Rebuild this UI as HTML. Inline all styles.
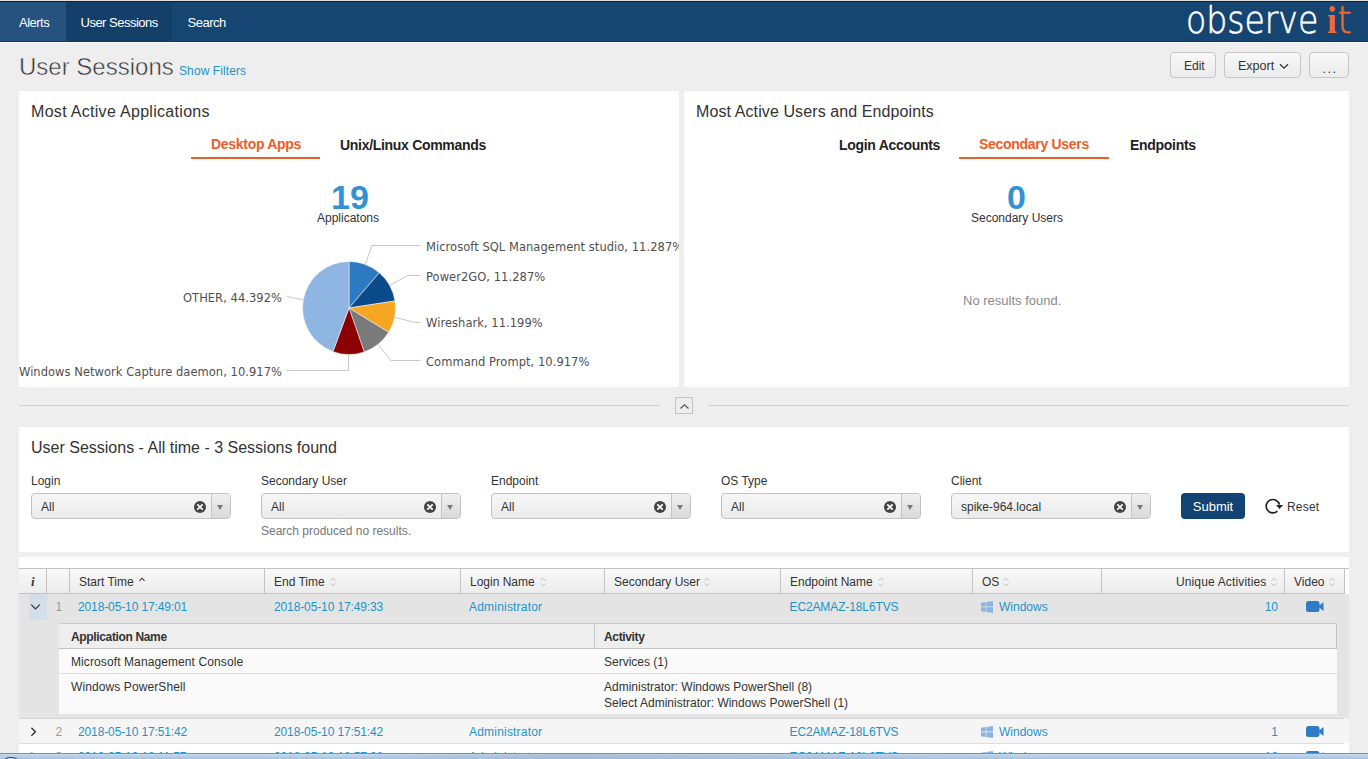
<!DOCTYPE html>
<html><head><meta charset="utf-8">
<style>
*{box-sizing:border-box;margin:0;padding:0}
html,body{width:1368px;height:759px;overflow:hidden}
body{background:#eeeeee;font-family:"Liberation Sans",Arial,sans-serif;color:#333;position:relative;font-size:13px}
.abs{position:absolute}
#topline{left:0;top:0;width:1368px;height:2px;background:#e0e0e0;border-bottom:1px solid #1b1e23}
#nav{left:0;top:2px;width:1368px;height:41px;background:#164572;border-bottom:1px solid #fafafa}
#nav .tab{position:absolute;top:0;height:40px;line-height:42px;color:#fff;font-size:13px;letter-spacing:-0.5px;border-bottom:1px solid #0b3660}
#logo{position:absolute;left:0;top:0;font-family:"DejaVu Sans",sans-serif;font-weight:200;font-size:38px;color:#fff;white-space:nowrap}
#logo span{position:absolute;line-height:1;display:block;transform-origin:0 0}
#logo .o{left:1186px;top:-1px;-webkit-text-stroke:0.6px #fff;transform:scaleX(0.87)}
#logo .i1{left:1327px;top:0px;color:#ef6a2c;font-weight:bold;font-family:"Liberation Serif",serif;font-size:37px;transform:scaleX(0.95)}
#logo .t1{left:1337px;top:-1px;-webkit-text-stroke:0.4px #ef6a2c;color:#ef6a2c}
h1{position:absolute;left:19px;top:53px;font-size:24px;font-weight:normal;color:#333;-webkit-text-stroke:0.5px #eeeeee;white-space:nowrap}
.link{color:#1e93c6}
.btn{position:absolute;top:52px;height:26px;border:1px solid #c6c6c6;border-radius:4px;background:linear-gradient(#f8f8f8,#ebebeb);font-size:12.5px;line-height:24px;color:#333}
.panel{position:absolute;background:#fff}
.ptitle{position:absolute;font-size:16px;color:#333;white-space:nowrap;letter-spacing:0.3px}
.ttab{position:absolute;font-size:14px;font-weight:bold;color:#222;white-space:nowrap;letter-spacing:-0.3px}
.ttab.on{color:#ec5d27}
.uline{position:absolute;height:2px;background:#ec5d27}
.big{position:absolute;font-size:34px;font-weight:bold;color:#3391d6;white-space:nowrap}
.sub{position:absolute;font-size:12px;color:#333;white-space:nowrap}
.lbl{position:absolute;font-size:12px;color:#333;white-space:nowrap}
.sel{position:absolute;width:200px;height:26px;border:1px solid #c3c3c3;border-radius:4px;background:linear-gradient(#f6f6f6,#ebebeb);overflow:hidden}
.sel .v{position:absolute;left:9px;top:2px;line-height:23px;font-size:12px;color:#333}
.sel .x{position:absolute;left:162px;top:7px;width:12px;height:12px}
.sel .dd{position:absolute;left:179px;top:0;width:20px;height:24px;border-left:1px solid #c3c3c3;background:linear-gradient(#f0f0f0,#d9d9d9)}
.sel .ar{position:absolute;left:185px;top:11px;width:0;height:0;border-left:3px solid transparent;border-right:3px solid transparent;border-top:5px solid #7a7a7a}
table{border-collapse:collapse}
.th{position:absolute;top:568px;height:26px;border-top:1px solid #c3c3c3;border-bottom:1px solid #c3c3c3;background:linear-gradient(#f8f8f8,#ececec)}
.hc{position:absolute;top:0;height:24px;line-height:26px;font-size:12px;color:#333;white-space:nowrap;border-left:1px solid #c3c3c3}
.rt{position:absolute;font-size:12px;letter-spacing:-0.12px;color:#1e93c6;white-space:nowrap}
.nt{position:absolute;font-size:12px;color:#333;white-space:nowrap}
#taskbar{left:0;top:753px;width:1368px;height:6px;background:linear-gradient(#c3dbf1,#a9c2dc);border-top:1px solid #7f90a4;overflow:hidden}
</style></head>
<body>
<div id="topline" class="abs"></div>
<div id="nav" class="abs"><div style="position:absolute;left:0;top:39px;width:1368px;height:1px;background:#0b3660"></div>
  <div class="tab" style="left:0;width:66px;background:#25527e;padding-left:19px">Alerts</div>
  <div class="tab" style="left:66px;width:106px;background:#133f69;padding-left:14.5px">User Sessions</div>
  <div class="tab" style="left:172px;width:70px;padding-left:15.5px">Search</div>
  <div id="logo"><span class="o">observe</span><span class="i1">i</span><span class="t1">t</span></div>
</div>

<h1>User Sessions</h1>
<div class="abs link" style="left:179px;top:64px;font-size:12px;letter-spacing:0.1px">Show Filters</div>
<div class="btn" style="left:1170px;width:46px"><span style="position:absolute;left:13px;top:1px;font-size:12px">Edit</span></div>
<div class="btn" style="left:1224px;width:77px"><span style="position:absolute;left:13px;top:1px">Export</span><svg style="position:absolute;left:54px;top:10px" width="10" height="7" viewBox="0 0 10 7"><path d="M1 1.2L5 5.2L9 1.2" fill="none" stroke="#333" stroke-width="1.25"/></svg></div>
<div class="btn" style="left:1309px;width:40px"><span style="position:absolute;left:12.5px;top:3.5px;letter-spacing:1.5px;color:#333">...</span></div>

<!-- Panel 1 -->
<div class="panel" style="left:19px;top:91px;width:660px;height:296px;overflow:hidden">
  <div class="ptitle" style="left:12px;top:12px">Most Active Applications</div>
  <div class="ttab on" style="left:192px;top:45px">Desktop Apps</div>
  <div class="uline" style="left:172px;top:66px;width:129px"></div>
  <div class="ttab" style="left:321px;top:46px">Unix/Linux Commands</div>
  <div class="big" style="left:312px;top:87px">19</div>
  <div class="sub" style="left:298px;top:120px">Applicatons</div>
  <svg class="abs" style="left:0;top:0" width="660" height="296" viewBox="19 91 660 296">
    <g font-family="DejaVu Sans, sans-serif" font-size="11.5" fill="#505050" letter-spacing="0.04">
<path d="M349 308L349.00 261.50A46.5 46.5 0 0 1 379.28 272.71Z" fill="#2c7bc2" stroke="#fff" stroke-width="0.5" stroke-linejoin="round"/>
      <path d="M349 308L379.28 272.71A46.5 46.5 0 0 1 394.96 300.94Z" fill="#0b4b8b" stroke="#fff" stroke-width="0.5" stroke-linejoin="round"/>
      <path d="M349 308L394.96 300.94A46.5 46.5 0 0 1 388.61 332.35Z" fill="#f5a623" stroke="#fff" stroke-width="0.5" stroke-linejoin="round"/>
      <path d="M349 308L388.61 332.35A46.5 46.5 0 0 1 364.23 351.94Z" fill="#7a7a7a" stroke="#fff" stroke-width="0.5" stroke-linejoin="round"/>
      <path d="M349 308L364.23 351.94A46.5 46.5 0 0 1 332.95 351.64Z" fill="#8b0000" stroke="#fff" stroke-width="0.5" stroke-linejoin="round"/>
      <path d="M349 308L332.95 351.64A46.5 46.5 0 0 1 349.00 261.50Z" fill="#8fb5e2" stroke="#fff" stroke-width="0.5" stroke-linejoin="round"/>
      <g fill="none" stroke="#c8c8c8" stroke-width="1">
        <path d="M365.1 264.4L372 245.5H420.5"/>
        <path d="M389.7 285.4L407.5 275.5H420.5"/>
        <path d="M394.6 317.2L414.8 322.5H420.5"/>
        <path d="M378.1 344.3L390.8 360.5H420.5"/>
        <path d="M348.5 354.5V370.5H287"/>
        <path d="M303.2 299.9L287 296.5"/>
      </g>
      <text x="426" y="251">Microsoft SQL Management studio, 11.287%</text>
      <text x="426" y="281">Power2GO, 11.287%</text>
      <text x="426" y="326.5">Wireshark, 11.199%</text>
      <text x="426" y="365.5">Command Prompt, 10.917%</text>
      <text x="282" y="375.5" text-anchor="end">Windows Network Capture daemon, 10.917%</text>
      <text x="282" y="302" text-anchor="end">OTHER, 44.392%</text>
    </g>
  </svg>
</div>

<!-- Panel 2 -->
<div class="panel" style="left:684px;top:91px;width:665px;height:296px">
  <div class="ptitle" style="left:12px;top:12px;letter-spacing:0.1px">Most Active Users and Endpoints</div>
  <div class="ttab" style="left:155px;top:46px">Login Accounts</div>
  <div class="ttab on" style="left:295px;top:45px">Secondary Users</div>
  <div class="uline" style="left:275px;top:66px;width:150px"></div>
  <div class="ttab" style="left:446px;top:46px">Endpoints</div>
  <div class="big" style="left:323px;top:87px">0</div>
  <div class="sub" style="left:287px;top:120px">Secondary Users</div>
  <div class="sub" style="left:279px;top:202px;color:#8a8a8a;font-size:13px">No results found.</div>
</div>

<!-- separator -->
<div class="abs" style="left:19px;top:405px;width:641px;height:1px;background:#cfcfcf"></div>
<div class="abs" style="left:708px;top:405px;width:641px;height:1px;background:#cfcfcf"></div>
<div class="abs" style="left:675px;top:397px;width:18px;height:17px;border:1px solid #c3c3c3;background:#eee"><svg style="position:absolute;left:2.5px;top:5px" width="11" height="7" viewBox="0 0 11 7"><path d="M1.5 5.5L5.5 1.8L9.5 5.5" fill="none" stroke="#555" stroke-width="1.15"/></svg></div>

<!-- Panel 3 filters -->
<div class="panel" style="left:19px;top:427px;width:1330px;height:125px">
  <div class="ptitle" style="left:12px;top:12px;letter-spacing:0">User Sessions - All time - 3 Sessions found</div>
</div>
<div class="lbl" style="left:31px;top:474px">Login</div>
<div class="lbl" style="left:261px;top:474px">Secondary User</div>
<div class="lbl" style="left:491px;top:474px">Endpoint</div>
<div class="lbl" style="left:721px;top:474px">OS Type</div>
<div class="lbl" style="left:951px;top:474px">Client</div>
<div class="sel" style="left:31px;top:493px"><div class="v">All</div><div class="x"><svg width="12" height="12" viewBox="0 0 12 12"><circle cx="6" cy="6" r="6" fill="#444"/><path d="M3.3 3.3L8.7 8.7M8.7 3.3L3.3 8.7" stroke="#fff" stroke-width="1.7"/></svg></div><div class="dd"></div><div class="ar"></div></div>
<div class="sel" style="left:261px;top:493px"><div class="v">All</div><div class="x"><svg width="12" height="12" viewBox="0 0 12 12"><circle cx="6" cy="6" r="6" fill="#444"/><path d="M3.3 3.3L8.7 8.7M8.7 3.3L3.3 8.7" stroke="#fff" stroke-width="1.7"/></svg></div><div class="dd"></div><div class="ar"></div></div>
<div class="sel" style="left:491px;top:493px"><div class="v">All</div><div class="x"><svg width="12" height="12" viewBox="0 0 12 12"><circle cx="6" cy="6" r="6" fill="#444"/><path d="M3.3 3.3L8.7 8.7M8.7 3.3L3.3 8.7" stroke="#fff" stroke-width="1.7"/></svg></div><div class="dd"></div><div class="ar"></div></div>
<div class="sel" style="left:721px;top:493px"><div class="v">All</div><div class="x"><svg width="12" height="12" viewBox="0 0 12 12"><circle cx="6" cy="6" r="6" fill="#444"/><path d="M3.3 3.3L8.7 8.7M8.7 3.3L3.3 8.7" stroke="#fff" stroke-width="1.7"/></svg></div><div class="dd"></div><div class="ar"></div></div>
<div class="sel" style="left:951px;top:493px"><div class="v">spike-964.local</div><div class="x"><svg width="12" height="12" viewBox="0 0 12 12"><circle cx="6" cy="6" r="6" fill="#444"/><path d="M3.3 3.3L8.7 8.7M8.7 3.3L3.3 8.7" stroke="#fff" stroke-width="1.7"/></svg></div><div class="dd"></div><div class="ar"></div></div>
<div class="lbl" style="left:261px;top:524px;color:#777">Search produced no results.</div>
<div class="abs" style="left:1181px;top:493px;width:64px;height:26px;border-radius:4px;background:#124373;color:#fff;font-size:13px;line-height:28px;text-align:center">Submit</div>
<svg class="abs" style="left:1264px;top:498px" width="20" height="17" viewBox="0 0 20 17"><path d="M13.4 13.2A6.7 6.7 0 1 1 15.4 6.6" fill="none" stroke="#222" stroke-width="1.7"/><path d="M12.1 7.1H19.1L15.5 10.9Z" fill="#222"/></svg>
<div class="abs" style="left:1287px;top:500px;font-size:12px;letter-spacing:0.2px;color:#333">Reset</div>

<!-- Table panel -->
<div class="panel" style="left:19px;top:557px;width:1330px;height:200px"></div>
<div class="th" style="left:19px;width:1326px;border-right:1px solid #c3c3c3"><div class="hc" style="left:0px;width:27px;border-left:none"><span style="position:absolute;left:12px;font-family:'Liberation Serif',serif;font-style:italic;font-weight:bold;font-size:13px">i</span></div><div class="hc" style="left:27px;width:23px"></div><div class="hc" style="left:50px;width:195px"><span style="position:absolute;left:9px">Start Time</span><svg style="position:absolute;left:69px;top:8px" width="6" height="5" viewBox="0 0 6 5"><path d="M0.5 3.8L3 1.2L5.5 3.8" fill="none" stroke="#333" stroke-width="1.1"/></svg></div><div class="hc" style="left:245px;width:196px"><span style="position:absolute;left:9px">End Time</span><svg style="position:absolute;left:64.6px;top:8px" width="6" height="10" viewBox="0 0 6 10"><path d="M0.6 3.6L3 1.2L5.4 3.6M0.6 6.4L3 8.8L5.4 6.4" fill="none" stroke="#b8b8b8" stroke-width="1"/></svg></div><div class="hc" style="left:441px;width:144px"><span style="position:absolute;left:9px">Login Name</span><svg style="position:absolute;left:78.79999999999998px;top:8px" width="6" height="10" viewBox="0 0 6 10"><path d="M0.6 3.6L3 1.2L5.4 3.6M0.6 6.4L3 8.8L5.4 6.4" fill="none" stroke="#b8b8b8" stroke-width="1"/></svg></div><div class="hc" style="left:585px;width:176px"><span style="position:absolute;left:9px">Secondary User</span><svg style="position:absolute;left:98.9px;top:8px" width="6" height="10" viewBox="0 0 6 10"><path d="M0.6 3.6L3 1.2L5.4 3.6M0.6 6.4L3 8.8L5.4 6.4" fill="none" stroke="#b8b8b8" stroke-width="1"/></svg></div><div class="hc" style="left:761px;width:192px"><span style="position:absolute;left:9px">Endpoint Name</span><svg style="position:absolute;left:96.9px;top:8px" width="6" height="10" viewBox="0 0 6 10"><path d="M0.6 3.6L3 1.2L5.4 3.6M0.6 6.4L3 8.8L5.4 6.4" fill="none" stroke="#b8b8b8" stroke-width="1"/></svg></div><div class="hc" style="left:953px;width:129px"><span style="position:absolute;left:9px">OS</span><svg style="position:absolute;left:29.600000000000044px;top:8px" width="6" height="10" viewBox="0 0 6 10"><path d="M0.6 3.6L3 1.2L5.4 3.6M0.6 6.4L3 8.8L5.4 6.4" fill="none" stroke="#b8b8b8" stroke-width="1"/></svg></div><div class="hc" style="left:1082px;width:183px"><span style="position:absolute;right:17.5px;letter-spacing:0.15px">Unique Activities</span><svg style="position:absolute;left:169.19999999999996px;top:8px" width="6" height="10" viewBox="0 0 6 10"><path d="M0.6 3.6L3 1.2L5.4 3.6M0.6 6.4L3 8.8L5.4 6.4" fill="none" stroke="#b8b8b8" stroke-width="1"/></svg></div><div class="hc" style="left:1265px;width:60px"><span style="position:absolute;left:9px">Video</span><svg style="position:absolute;left:44.4px;top:8px" width="6" height="10" viewBox="0 0 6 10"><path d="M0.6 3.6L3 1.2L5.4 3.6M0.6 6.4L3 8.8L5.4 6.4" fill="none" stroke="#b8b8b8" stroke-width="1"/></svg></div></div>
<div class="abs" style="left:19px;top:594px;width:1330px;height:124px;background:#e4e4e4"></div><div class="rt" style="left:55.5px;top:600px;color:#9a9a9a;letter-spacing:0">1</div><div class="rt" style="left:78px;top:600px">2018-05-10 17:49:01</div><div class="rt" style="left:274px;top:600px">2018-05-10 17:49:33</div><div class="rt" style="left:469px;top:600px;letter-spacing:0.2px">Administrator</div><div class="rt" style="left:789.5px;top:600px">EC2AMAZ-18L6TVS</div><div class="abs" style="left:981px;top:601px"><svg width="12" height="12" viewBox="0 0 12 12"><path d="M0 1.8L4.8 1.1V5.6H0ZM5.4 1L12 0V5.6H5.4ZM0 6.2H4.8V10.9L0 10.2ZM5.4 6.2H12V12L5.4 11Z" fill="#8db4e0"/></svg></div><div class="rt" style="left:999px;top:600px;letter-spacing:0">Windows</div><div class="rt" style="right:90px;top:600px;text-align:right;letter-spacing:0">10</div><div class="abs" style="left:1306px;top:600px;height:11px"><svg width="18" height="11" viewBox="0 0 18 11"><rect x="0" y="0" width="13.5" height="11" rx="2.5" fill="#2f7bc4"/><path d="M12 5.5L17.5 1V10Z" fill="#2f7bc4"/></svg></div><div class="abs" style="left:29px;top:594px;width:18px;height:26px;background:#d2dee9"></div><svg class="abs" style="left:30px;top:603px" width="11" height="8" viewBox="0 0 11 8"><path d="M1.2 1.6L5.5 5.9L9.8 1.6" fill="none" stroke="#333" stroke-width="1.25"/></svg><div class="abs" style="left:59px;top:623px;width:1278px;height:91px;background:#fafafa;border-top:1px solid #c9c9c9"></div><div class="abs" style="left:59px;top:624px;width:1278px;height:25px;background:#eeeeee;border-bottom:1px solid #c3c3c3;border-right:1px solid #c3c3c3"></div><div class="abs" style="left:594px;top:624px;width:1px;height:24px;background:#c9c9c9"></div><div class="abs" style="left:59px;top:673px;width:1278px;height:1px;background:#dddddd"></div><div class="nt" style="left:71px;top:630px;font-weight:bold;letter-spacing:-0.35px">Application Name</div><div class="nt" style="left:604px;top:630px;font-weight:bold;letter-spacing:-0.35px">Activity</div><div class="nt" style="left:71px;top:655px;letter-spacing:0.1px">Microsoft Management Console</div><div class="nt" style="left:604px;top:655px">Services (1)</div><div class="nt" style="left:71px;top:680px;letter-spacing:0.1px">Windows PowerShell</div><div class="nt" style="left:604px;top:679px;line-height:16.3px">Administrator: Windows PowerShell (8)<br>Select Administrator: Windows PowerShell (1)</div><div class="abs" style="left:19px;top:718px;width:1330px;height:25px;background:#f5f5f5"></div><div class="rt" style="left:55.5px;top:725px;color:#9a9a9a;letter-spacing:0">2</div><div class="rt" style="left:78px;top:725px">2018-05-10 17:51:42</div><div class="rt" style="left:274px;top:725px">2018-05-10 17:51:42</div><div class="rt" style="left:469px;top:725px;letter-spacing:0.2px">Administrator</div><div class="rt" style="left:789.5px;top:725px">EC2AMAZ-18L6TVS</div><div class="abs" style="left:981px;top:726px"><svg width="12" height="12" viewBox="0 0 12 12"><path d="M0 1.8L4.8 1.1V5.6H0ZM5.4 1L12 0V5.6H5.4ZM0 6.2H4.8V10.9L0 10.2ZM5.4 6.2H12V12L5.4 11Z" fill="#8db4e0"/></svg></div><div class="rt" style="left:999px;top:725px;letter-spacing:0">Windows</div><div class="rt" style="right:90px;top:725px;text-align:right;letter-spacing:0">1</div><div class="abs" style="left:1306px;top:725px;height:11px"><svg width="18" height="11" viewBox="0 0 18 11"><rect x="0" y="0" width="13.5" height="11" rx="2.5" fill="#2f7bc4"/><path d="M12 5.5L17.5 1V10Z" fill="#2f7bc4"/></svg></div><div class="abs" style="left:19px;top:718px;width:1325px;height:1px;background:#d6d6d6"></div><div class="abs" style="left:19px;top:743px;width:1325px;height:1px;background:#dddddd"></div><div class="abs" style="left:1344px;top:568px;width:5px;height:1px;background:#c3c3c3"></div><svg class="abs" style="left:30px;top:727px" width="8" height="10" viewBox="0 0 8 10"><path d="M1.4 0.8L5.4 4.8L1.4 8.8" fill="none" stroke="#333" stroke-width="1.4"/></svg><div class="abs" style="left:19px;top:744px;width:1330px;height:26px;background:#ffffff"></div><div class="rt" style="left:55.5px;top:750px;color:#9a9a9a;letter-spacing:0">3</div><div class="rt" style="left:78px;top:750px">2018-05-10 18:11:57</div><div class="rt" style="left:274px;top:750px">2018-05-10 18:57:08</div><div class="rt" style="left:469px;top:750px;letter-spacing:0.2px">Administrator</div><div class="rt" style="left:789.5px;top:750px">EC2AMAZ-18L6TVS</div><div class="abs" style="left:981px;top:751px"><svg width="12" height="12" viewBox="0 0 12 12"><path d="M0 1.8L4.8 1.1V5.6H0ZM5.4 1L12 0V5.6H5.4ZM0 6.2H4.8V10.9L0 10.2ZM5.4 6.2H12V12L5.4 11Z" fill="#8db4e0"/></svg></div><div class="rt" style="left:999px;top:750px;letter-spacing:0">Windows</div><div class="rt" style="right:90px;top:750px;text-align:right;letter-spacing:0">16</div><div class="abs" style="left:1306px;top:750px;height:11px"><svg width="18" height="11" viewBox="0 0 18 11"><rect x="0" y="0" width="13.5" height="11" rx="2.5" fill="#2f7bc4"/><path d="M12 5.5L17.5 1V10Z" fill="#2f7bc4"/></svg></div><svg class="abs" style="left:30px;top:752px" width="8" height="10" viewBox="0 0 8 10"><path d="M1.4 0.8L5.4 4.8L1.4 8.8" fill="none" stroke="#333" stroke-width="1.4"/></svg>

<div id="taskbar" class="abs"><div style="position:absolute;left:3px;top:3px;width:16px;height:10px;border-radius:50%;border:1.5px solid #1d4a7a;background:#e4eef8"></div><div style="position:absolute;left:360px;top:0;width:700px;height:6px;background:linear-gradient(90deg,rgba(150,170,195,0),rgba(150,170,195,0.45) 30%,rgba(150,170,195,0.2) 60%,rgba(150,170,195,0))"></div></div>
</body></html>
